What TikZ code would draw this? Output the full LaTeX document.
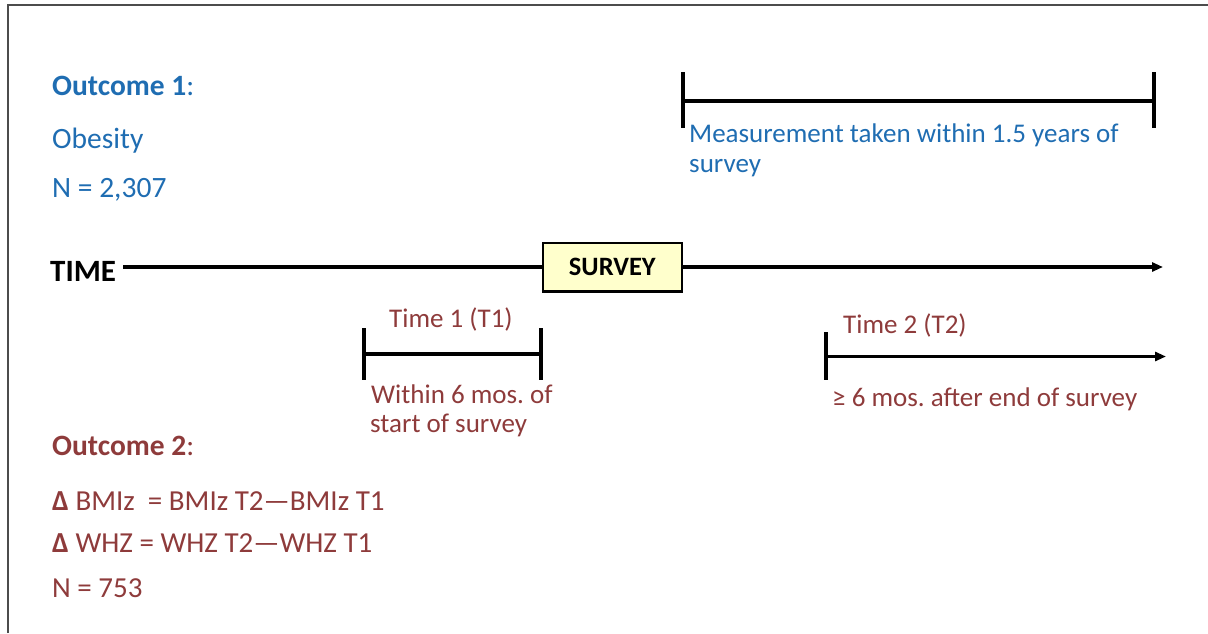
\documentclass[tikz,border=0pt]{standalone}
\usepackage{fontspec}
\setmainfont{Carlito}
\usetikzlibrary{arrows.meta}
\definecolor{oblue}{HTML}{1F6DB2}
\definecolor{ored}{HTML}{8E3B3B}
\definecolor{boxfill}{HTML}{FFFFCC}
\frenchspacing
\begin{document}
\begin{tikzpicture}[x=1pt,y=-1pt,
  txt/.style={anchor=base west, inner sep=0pt, font=\fontsize{27}{32}\selectfont},
  mid/.style={anchor=base west, inner sep=0pt, font=\fontsize{29}{34}\selectfont},
  big/.style={anchor=base west, inner sep=0pt, font=\fontsize{29.5}{34}\selectfont},
  rule/.style={line width=3.2pt, draw=black},
  tip/.style={-{Triangle[length=11pt,width=9pt]}}]
\useasboundingbox (0,0) rectangle (1208,633);
\draw[line width=2pt, draw=black!70] (8,633) -- (8,5) -- (1208,5);

% Outcome 1
\node[big, text=oblue] (o1) at (52,95) {\textbf{Outcome 1}:};
\node[big, text=oblue] (ob) at (52,148) {Obesity};
\node[big, text=oblue] (n1) at (52,197) {N = 2,307};

% timeline
\node[anchor=base west, inner sep=0pt, font=\fontsize{31}{36}\selectfont\bfseries] (time) at (50,281) {TIME};
\node[draw=black, line width=2.5pt, fill=boxfill, minimum width=139pt, minimum height=48.5pt, inner sep=0pt, font=\fontsize{26.5}{30}\selectfont\bfseries] (survey) at (612.3,267) {SURVEY};
\coordinate (tl) at (123,267);
\coordinate (tend) at (1163,267);
\draw[rule] (tl) -- (survey.west);
\draw[rule, tip] (survey.east) -- (tend);

% measurement bracket
\coordinate (m1t) at (683,72);
\coordinate (m1b) at (683,128);
\coordinate (m2t) at (1154,72);
\coordinate (m2b) at (1154,128);
\coordinate (m1) at (683,101);
\coordinate (m2) at (1154,101);
\draw[rule] (m1t) -- (m1b);
\draw[rule] (m2t) -- (m2b);
\draw[rule] (m1) -- (m2);
\node[txt, text=oblue] (meas1) at (689,142) {Measurement taken within 1.5 years of};
\node[txt, text=oblue] (meas2) at (689,172) {survey};

% Time 1 bracket
\coordinate (a1t) at (364,328);
\coordinate (a1b) at (364,380);
\coordinate (a2t) at (541,328);
\coordinate (a2b) at (541,380);
\coordinate (a1) at (364,354);
\coordinate (a2) at (541,354);
\draw[rule] (a1t) -- (a1b);
\draw[rule] (a2t) -- (a2b);
\draw[rule] (a1) -- (a2);
\node[txt, text=ored] (t1) at (389,327) {Time 1 (T1)};
\node[txt, text=ored] (w1) at (371,403) {Within 6 mos. of};
\node[txt, text=ored] (w2) at (370,432) {start of survey};

% Time 2 arrow
\coordinate (b1t) at (826,332);
\coordinate (b1b) at (826,380);
\coordinate (b1) at (826,356.5);
\coordinate (b2) at (1166,356.5);
\draw[rule] (b1t) -- (b1b);
\draw[rule, tip] (b1) -- (b2);
\node[txt, text=ored] (t2) at (843,333) {Time 2 (T2)};
\node[txt, text=ored] (g6) at (832,406) {≥ 6 mos. after end of survey};

% Outcome 2
\node[big, text=ored] (o2) at (52,455) {\textbf{Outcome 2}:};
\node[mid, text=ored] (d1) at (52,510) {\textbf{Δ} BMIz\ \ = BMIz T2—BMIz T1};
\node[mid, text=ored] (d2) at (52,552) {\textbf{Δ} WHZ = WHZ T2—WHZ T1};
\node[mid, text=ored] (n2) at (52,597) {N = 753};
\end{tikzpicture}
\end{document}
